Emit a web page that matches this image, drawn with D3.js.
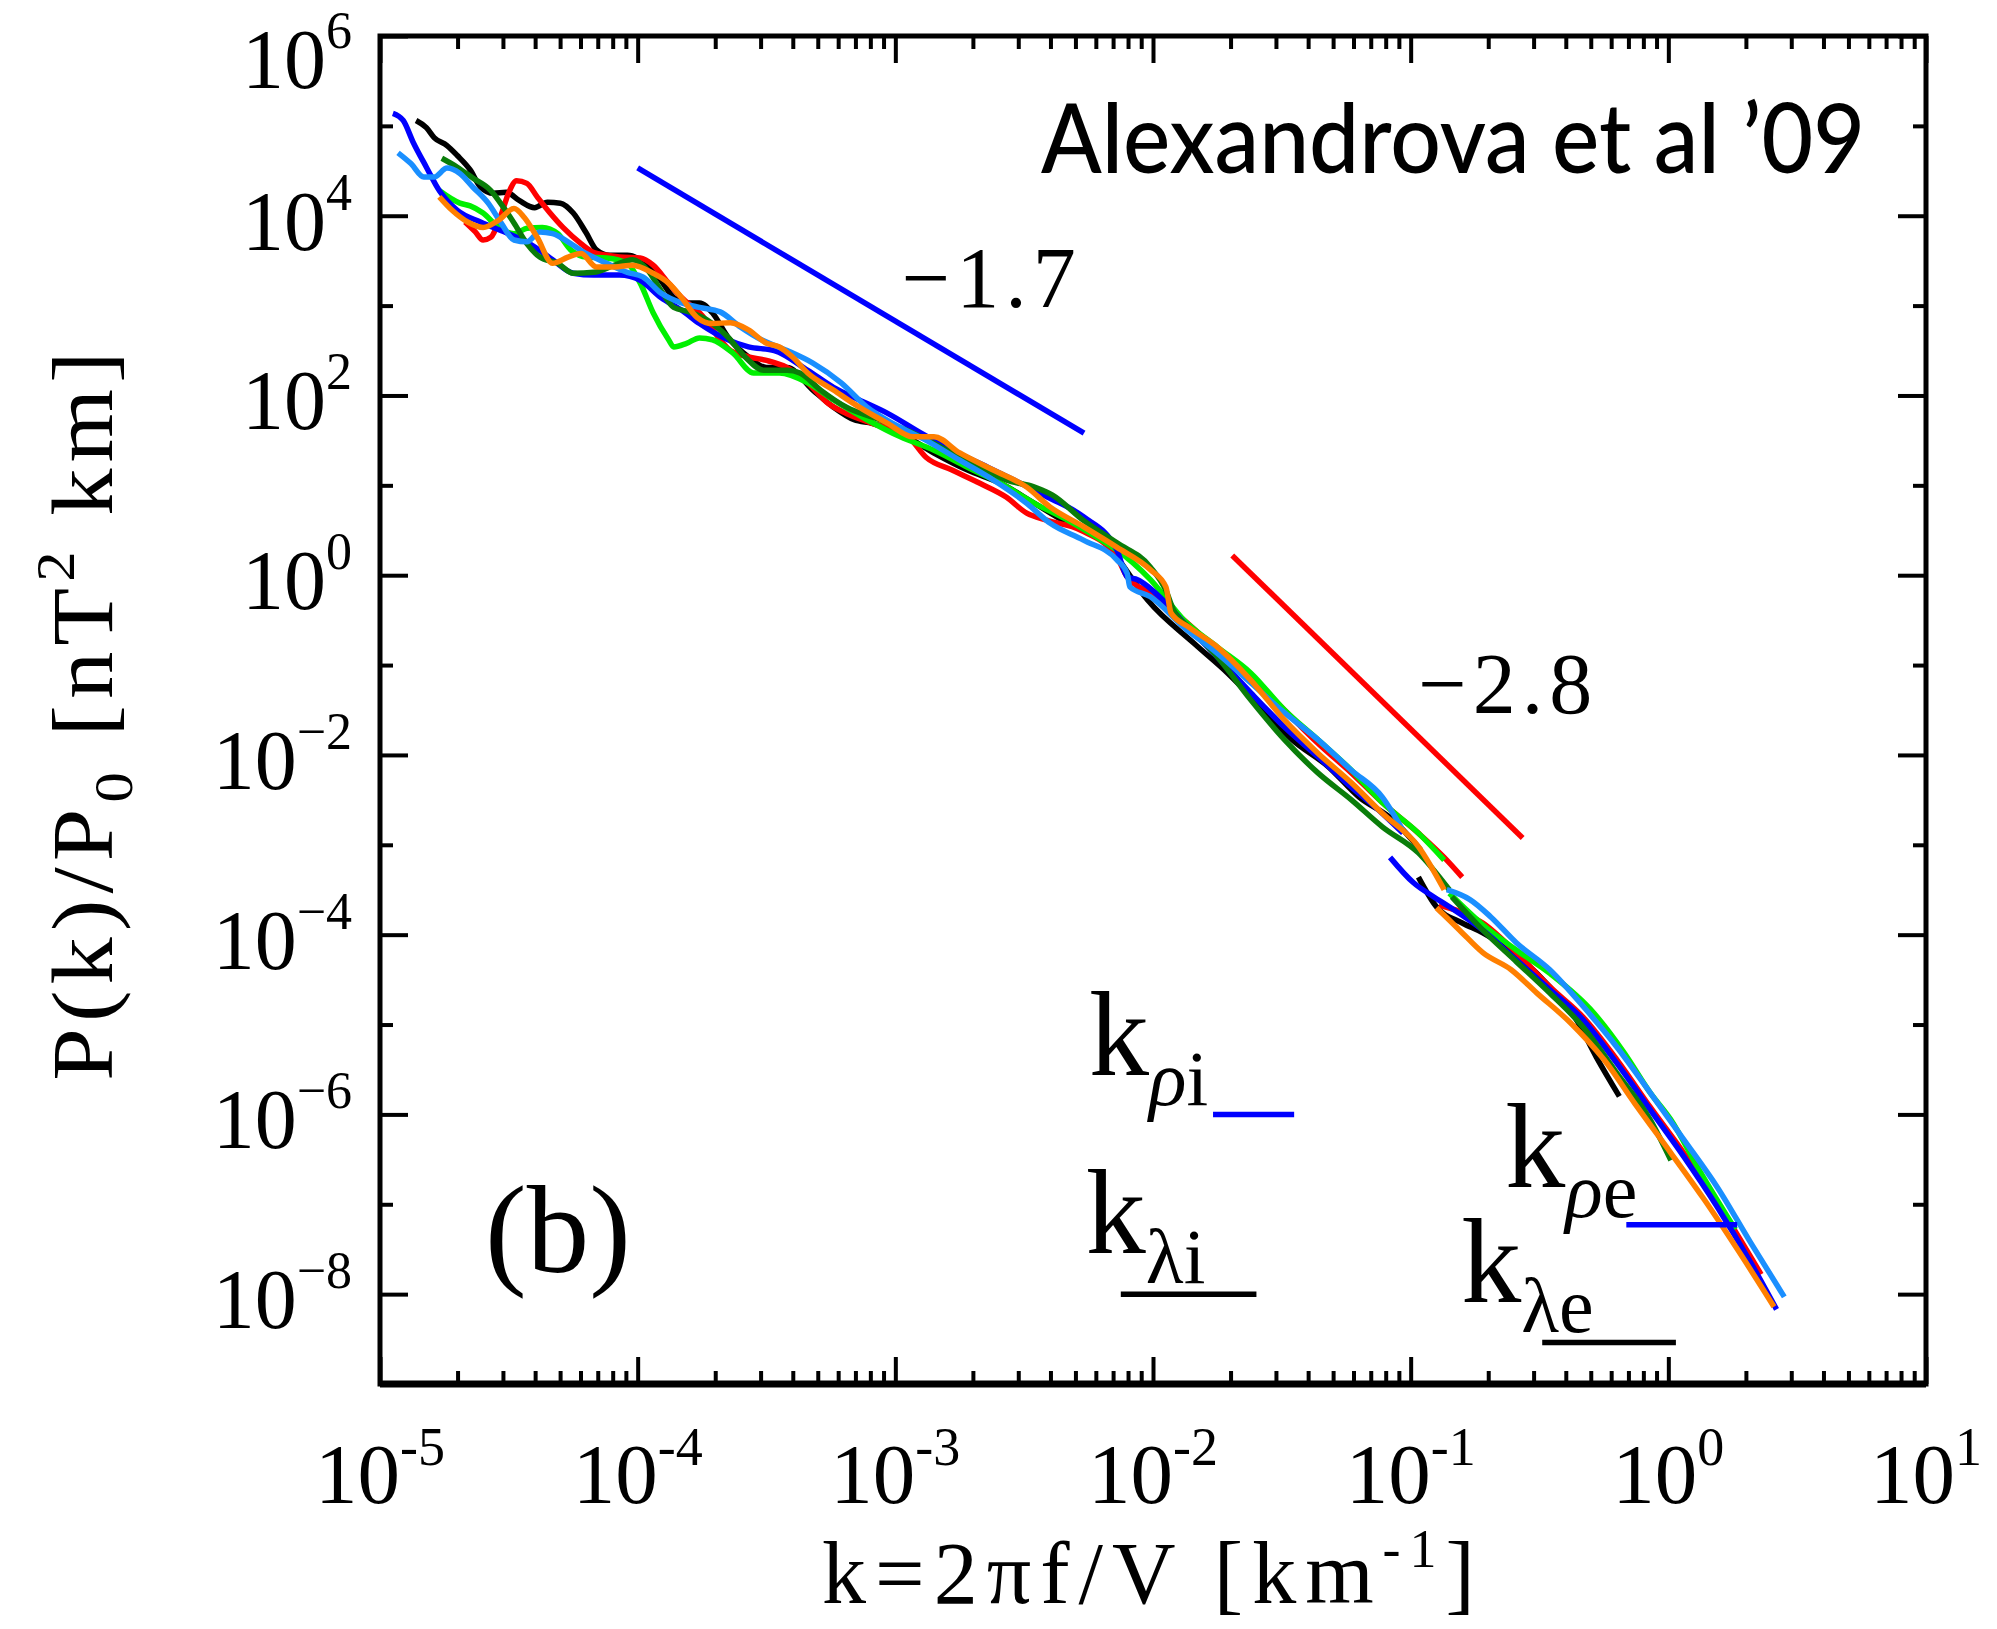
<!DOCTYPE html>
<html>
<head>
<meta charset="utf-8">
<script src="https://cdn.jsdelivr.net/npm/d3@7"></script>
<style>
  body { margin: 0; background: #fff; }
  svg { display: block; }
</style>
</head>
<body>
<div id="chart"></div>
<script>
// Spectra, as [log10 k, log10 P]
// "Low" = low-k instrument, "High" = high-k instrument
const blackLow = [[-4.86,5.06],[-4.82,4.98],[-4.79,4.87],[-4.74,4.78],[-4.70,4.67],[-4.65,4.51],[-4.61,4.32],[-4.56,4.25],[-4.51,4.26],[-4.46,4.17],[-4.40,4.09],[-4.35,4.15],[-4.30,4.14],[-4.25,4.03],[-4.20,3.81],[-4.16,3.62],[-4.11,3.56],[-4.04,3.56],[-3.99,3.51],[-3.92,3.32],[-3.86,3.09],[-3.81,3.03],[-3.76,3.03],[-3.71,2.92],[-3.65,2.65],[-3.57,2.43],[-3.50,2.31],[-3.42,2.31],[-3.32,2.06],[-3.24,1.87],[-3.16,1.73],[-3.09,1.69],[-2.98,1.58],[-2.85,1.36],[-2.72,1.17],[-2.59,1.02],[-2.46,0.80],[-2.33,0.58],[-2.20,0.42],[-2.14,0.20],[-2.02,-0.28],[-1.84,-0.76],[-1.71,-1.09],[-1.58,-1.47],[-1.46,-1.83],[-1.32,-2.13],[-1.20,-2.47],[-1.07,-2.72],[-0.96,-3.06]];
const blackHigh = [[-0.97,-3.36],[-0.90,-3.69],[-0.80,-3.87],[-0.72,-3.98],[-0.59,-4.23],[-0.46,-4.58],[-0.36,-4.93],[-0.28,-5.36],[-0.19,-5.80]];

const blueLow = [[-4.95,5.14],[-4.91,5.06],[-4.87,4.81],[-4.82,4.54],[-4.77,4.28],[-4.70,4.06],[-4.61,3.93],[-4.51,3.81],[-4.42,3.69],[-4.33,3.51],[-4.25,3.36],[-4.17,3.34],[-4.07,3.34],[-3.99,3.28],[-3.91,3.09],[-3.83,2.95],[-3.76,2.80],[-3.65,2.62],[-3.57,2.54],[-3.47,2.50],[-3.34,2.28],[-3.24,2.09],[-3.14,1.95],[-3.03,1.80],[-2.90,1.58],[-2.78,1.39],[-2.64,1.20],[-2.54,1.06],[-2.41,0.87],[-2.27,0.65],[-2.14,0.28],[-2.10,-0.02],[-2.06,-0.05],[-1.96,-0.28],[-1.88,-0.53],[-1.75,-0.91],[-1.62,-1.31],[-1.49,-1.69],[-1.36,-2.02],[-1.23,-2.36],[-1.11,-2.65],[-1.03,-2.87]];
const blueHigh = [[-1.08,-3.14],[-0.99,-3.42],[-0.91,-3.58],[-0.85,-3.69],[-0.72,-3.95],[-0.59,-4.28],[-0.46,-4.61],[-0.33,-4.95],[-0.20,-5.43],[-0.07,-5.95],[0.06,-6.47],[0.19,-7.03],[0.32,-7.65],[0.42,-8.17]];

const redLow = [[-4.67,3.93],[-4.63,3.82],[-4.60,3.73],[-4.57,3.76],[-4.53,4.01],[-4.50,4.26],[-4.47,4.39],[-4.43,4.36],[-4.39,4.21],[-4.34,4.03],[-4.29,3.87],[-4.22,3.69],[-4.17,3.59],[-4.12,3.56],[-4.07,3.54],[-3.99,3.53],[-3.94,3.45],[-3.88,3.25],[-3.83,3.09],[-3.76,2.92],[-3.64,2.50],[-3.57,2.43],[-3.50,2.39],[-3.42,2.31],[-3.34,2.14],[-3.26,1.91],[-3.19,1.80],[-3.09,1.69],[-2.95,1.54],[-2.88,1.31],[-2.78,1.17],[-2.67,1.02],[-2.57,0.87],[-2.49,0.69],[-2.41,0.61],[-2.28,0.50],[-2.14,0.20],[-2.10,-0.02],[-2.01,-0.20],[-1.88,-0.50],[-1.75,-0.83],[-1.62,-1.13],[-1.49,-1.50],[-1.36,-1.87],[-1.23,-2.20],[-1.11,-2.53],[-0.97,-2.87],[-0.87,-3.14],[-0.80,-3.36]];
const redHigh = [[-0.89,-3.67],[-0.72,-3.87],[-0.59,-4.20],[-0.46,-4.58],[-0.33,-4.92],[-0.20,-5.39],[-0.07,-5.92],[0.06,-6.43],[0.19,-6.98],[0.36,-7.78]];

const limeLow = [[-4.77,4.28],[-4.69,4.14],[-4.65,4.11],[-4.60,4.03],[-4.54,3.87],[-4.48,3.80],[-4.43,3.86],[-4.37,3.87],[-4.31,3.80],[-4.26,3.62],[-4.20,3.54],[-4.12,3.53],[-4.04,3.47],[-3.99,3.25],[-3.94,2.92],[-3.88,2.62],[-3.86,2.54],[-3.81,2.58],[-3.76,2.64],[-3.71,2.62],[-3.63,2.47],[-3.55,2.25],[-3.45,2.25],[-3.34,2.14],[-3.24,1.95],[-3.11,1.73],[-2.98,1.54],[-2.85,1.39],[-2.72,1.20],[-2.59,1.02],[-2.46,0.80],[-2.33,0.61],[-2.20,0.39],[-2.14,0.28],[-2.01,-0.05],[-1.88,-0.50],[-1.75,-0.80],[-1.62,-1.09],[-1.49,-1.50],[-1.36,-1.83],[-1.23,-2.17],[-1.11,-2.53],[-0.97,-2.87],[-0.87,-3.17]];
const limeHigh = [[-0.85,-3.54],[-0.72,-3.89],[-0.59,-4.17],[-0.46,-4.43],[-0.29,-4.87],[-0.17,-5.32],[-0.07,-5.76],[0.01,-6.06],[0.12,-6.62],[0.26,-7.28]];

const dgreenLow = [[-4.76,4.64],[-4.70,4.54],[-4.64,4.42],[-4.57,4.28],[-4.52,4.09],[-4.48,3.92],[-4.43,3.69],[-4.38,3.54],[-4.31,3.47],[-4.25,3.36],[-4.17,3.37],[-4.09,3.45],[-4.02,3.51],[-3.96,3.39],[-3.91,3.17],[-3.86,2.98],[-3.80,2.93],[-3.73,2.84],[-3.65,2.65],[-3.58,2.42],[-3.51,2.28],[-3.42,2.28],[-3.37,2.25],[-3.29,2.06],[-3.19,1.87],[-3.06,1.73],[-2.93,1.58],[-2.80,1.39],[-2.67,1.20],[-2.57,1.06],[-2.46,0.98],[-2.39,0.89],[-2.27,0.61],[-2.14,0.36],[-2.01,0.09],[-1.95,-0.17],[-1.92,-0.39],[-1.86,-0.58],[-1.75,-0.91],[-1.62,-1.39],[-1.49,-1.83],[-1.36,-2.20],[-1.23,-2.50],[-1.11,-2.80],[-0.97,-3.09],[-0.85,-3.50]];
const dgreenHigh = [[-0.84,-3.58],[-0.72,-3.95],[-0.59,-4.30],[-0.46,-4.65],[-0.33,-5.03],[-0.20,-5.54],[-0.07,-6.06],[0.01,-6.51]];

const skyLow = [[-4.93,4.70],[-4.88,4.58],[-4.83,4.43],[-4.79,4.43],[-4.74,4.53],[-4.69,4.47],[-4.64,4.32],[-4.58,4.14],[-4.53,3.92],[-4.48,3.73],[-4.43,3.71],[-4.38,3.82],[-4.33,3.80],[-4.26,3.69],[-4.20,3.58],[-4.12,3.47],[-4.04,3.37],[-3.98,3.32],[-3.91,3.14],[-3.83,3.03],[-3.76,2.98],[-3.68,2.93],[-3.60,2.76],[-3.52,2.62],[-3.42,2.50],[-3.32,2.36],[-3.21,2.14],[-3.11,1.87],[-3.01,1.69],[-2.88,1.50],[-2.75,1.28],[-2.62,1.06],[-2.49,0.80],[-2.40,0.58],[-2.27,0.39],[-2.14,0.17],[-2.10,0.02],[-2.09,-0.13],[-2.01,-0.24],[-1.88,-0.58],[-1.75,-0.87],[-1.62,-1.20],[-1.49,-1.53],[-1.36,-1.83],[-1.23,-2.17],[-1.11,-2.47],[-1.03,-2.84]];
const skyHigh = [[-0.86,-3.50],[-0.77,-3.61],[-0.69,-3.80],[-0.59,-4.09],[-0.46,-4.39],[-0.33,-4.80],[-0.20,-5.25],[-0.07,-5.76],[0.06,-6.28],[0.19,-6.81],[0.32,-7.43],[0.45,-8.03]];

const orangeLow = [[-4.77,4.21],[-4.72,4.06],[-4.66,3.93],[-4.60,3.87],[-4.54,3.95],[-4.48,4.08],[-4.44,3.98],[-4.39,3.76],[-4.33,3.47],[-4.27,3.54],[-4.22,3.58],[-4.16,3.43],[-4.09,3.43],[-4.02,3.45],[-3.94,3.36],[-3.88,3.25],[-3.83,3.09],[-3.77,2.87],[-3.71,2.80],[-3.64,2.81],[-3.57,2.73],[-3.50,2.58],[-3.45,2.54],[-3.40,2.43],[-3.34,2.25],[-3.24,2.06],[-3.14,1.87],[-3.03,1.69],[-2.93,1.54],[-2.85,1.54],[-2.75,1.36],[-2.62,1.17],[-2.49,0.98],[-2.40,0.76],[-2.27,0.54],[-2.14,0.31],[-2.01,0.06],[-1.95,-0.13],[-1.93,-0.42],[-1.86,-0.58],[-1.75,-0.80],[-1.62,-1.17],[-1.49,-1.61],[-1.36,-1.98],[-1.23,-2.31],[-1.11,-2.65],[-0.97,-3.02],[-0.87,-3.50]];
const orangeHigh = [[-0.90,-3.70],[-0.81,-3.95],[-0.72,-4.20],[-0.61,-4.39],[-0.51,-4.65],[-0.38,-4.98],[-0.25,-5.39],[-0.12,-5.92],[0.01,-6.43],[0.14,-6.95],[0.27,-7.51],[0.41,-8.14]];

// tick label exponents
const xTickExp = [-5, -4, -3, -2, -1, 0, 1];
const yTickExp = [6, 4, 2, 0, -2, -4, -6, -8];

// power-law reference lines (k, P at both ends)
const slopeK = [[1e-4, 5.4e-3], [0.0203, 0.272]];
const slopeP = [[3.4e4, 38], [1.66, 1.19e-3]];
const slopeText = ["\u22121.7", "\u22122.8"];

// characteristic scales: k range of the bar and level P
const scaleNames = [["\u03c1", "i"], ["\u03bb", "i"], ["\u03c1", "e"], ["\u03bb", "e"]];
const scaleK = [[0.0171, 0.0353], [0.0075, 0.0252], [0.687, 1.85], [0.324, 1.07]];
const scaleP = [1e-6, 1e-8, 5.9e-8, 2.9e-9];

const W = 1997, H = 1629;
const margin = { top: 36, right: 71, bottom: 245, left: 380 },
  width = W - margin.left - margin.right,
  height = H - margin.top - margin.bottom;

const serif = "'Liberation Serif', 'Times New Roman', serif";

const x = d3.scaleLog().domain([1e-5, 10]).range([0, width]);
const y = d3.scaleLog().domain([1e-9, 1e6]).range([height, 0]);

const root = d3.select("#chart")
  .append("svg")
  .attr("width", W)
  .attr("height", H)
  .style("background", "#fff");

const svg = root.append("g")
  .attr("transform", `translate(${margin.left},${margin.top})`);

// ticks: majors every decade on x, every 2 decades on y
const xMajor = xTickExp.map(e => Math.pow(10, e));
const xMinor = [];
for (let e = -5; e < 1; e++) {
  for (let m = 2; m <= 9; m++) xMinor.push(m * Math.pow(10, e));
}
const yMajor = d3.range(-8, 7, 2).map(e => Math.pow(10, e));
const yMinor = d3.range(-9, 6, 2).map(e => Math.pow(10, e));

function drawAxis(axis, tx, ty) {
  const g = svg.append("g")
    .attr("transform", `translate(${tx},${ty})`)
    .call(axis.tickFormat(""));
  g.select(".domain").remove();
  g.selectAll("line").attr("stroke", "#000").attr("stroke-width", 4);
}

drawAxis(d3.axisBottom(x).tickValues(xMajor).tickSize(-27), 0, height);
drawAxis(d3.axisBottom(x).tickValues(xMinor).tickSize(-13), 0, height);
drawAxis(d3.axisTop(x).tickValues(xMajor).tickSize(-27), 0, 0);
drawAxis(d3.axisTop(x).tickValues(xMinor).tickSize(-13), 0, 0);
drawAxis(d3.axisLeft(y).tickValues(yMajor).tickSize(-28), 0, 0);
drawAxis(d3.axisLeft(y).tickValues(yMinor).tickSize(-13), 0, 0);
drawAxis(d3.axisRight(y).tickValues(yMajor).tickSize(-28), width, 0);
drawAxis(d3.axisRight(y).tickValues(yMinor).tickSize(-13), width, 0);

// frame
svg.append("rect")
  .attr("width", width)
  .attr("height", height)
  .attr("fill", "none")
  .attr("stroke", "#000")
  .attr("stroke-width", 5);
svg.append("line")
  .attr("x1", 0).attr("x2", width)
  .attr("y1", height).attr("y2", height)
  .attr("stroke", "#000")
  .attr("stroke-width", 7);

// x tick labels  10^n
const xl = svg.selectAll(".xlab")
  .data(xTickExp)
  .join("text")
  .attr("class", "xlab")
  .attr("x", d => x(Math.pow(10, d)))
  .attr("y", height + 119)
  .attr("text-anchor", "middle")
  .style("font-family", serif)
  .style("font-size", "85px");
xl.append("tspan").text("10");
xl.append("tspan")
  .attr("dy", -38)
  .style("font-size", "54px")
  .text(d => String(d));

// y tick labels
const yl = svg.selectAll(".ylab")
  .data(yTickExp)
  .join("text")
  .attr("class", "ylab")
  .attr("x", -28)
  .attr("y", d => y(Math.pow(10, d)) + (d === 6 ? 52 : 34))
  .attr("text-anchor", "end")
  .style("font-family", serif)
  .style("font-size", "84px");
yl.append("tspan").text("10");
yl.append("tspan")
  .attr("dy", -40)
  .style("font-size", "52px")
  .text(d => String(d).replace("-", "\u2212"));

// axis titles
const ytitle = svg.append("g")
  .attr("transform", `translate(-268,${height / 2 + 3}) rotate(-90) scale(1.1,1)`)
  .append("text")
  .attr("text-anchor", "middle")
  .style("font-family", serif)
  .style("font-size", "86px")
  .style("letter-spacing", "5.5px");
ytitle.append("tspan").text("P(k)/P");
ytitle.append("tspan").attr("dy", 20).style("font-size", "55px").text("0");
ytitle.append("tspan").attr("dy", -20).text(" [nT");
ytitle.append("tspan").attr("dy", -38).style("font-size", "55px").text("2");
ytitle.append("tspan").attr("dy", 38).text(" km]");

const xtitle = svg.append("text")
  .attr("x", width / 2)
  .attr("y", height + 219)
  .attr("text-anchor", "middle")
  .style("font-family", serif)
  .style("font-size", "88px")
  .style("letter-spacing", "9px");
xtitle.append("tspan").text("k=2\u03c0f/V [km");
xtitle.append("tspan").attr("dy", -36).style("font-size", "54px").text("-1");
xtitle.append("tspan").attr("dy", 36).text("]");

// spectra
const line = d3.line()
  .x(d => x(Math.pow(10, d[0])))
  .y(d => y(Math.pow(10, d[1])))
  .curve(d3.curveMonotoneX);

const spectra = [
  [blackLow, "#000000"], [blackHigh, "#000000"],
  [redLow, "#ff0000"], [redHigh, "#ff0000"],
  [limeLow, "#00f000"], [limeHigh, "#00f000"],
  [blueLow, "#0000ff"], [blueHigh, "#0000ff"],
  [dgreenLow, "#0a7d0a"], [dgreenHigh, "#0a7d0a"],
  [skyLow, "#1a8fff"], [skyHigh, "#1a8fff"],
  [orangeLow, "#ff7f00"], [orangeHigh, "#ff7f00"]
];

spectra.forEach(s => {
  svg.append("path")
    .datum(s[0])
    .attr("fill", "none")
    .attr("stroke", s[1])
    .attr("stroke-width", 5.5)
    .attr("stroke-linejoin", "round")
    .attr("d", line);
});

// reference slopes
const slopeColors = ["#0000ff", "#ff0000"];
slopeK.forEach((k, i) => {
  svg.append("line")
    .attr("x1", x(k[0])).attr("y1", y(slopeP[i][0]))
    .attr("x2", x(k[1])).attr("y2", y(slopeP[i][1]))
    .attr("stroke", slopeColors[i])
    .attr("stroke-width", 5.5);
});
const slopeLabelAt = [[1.06e-3, 970], [0.107, 0.029]];
slopeText.forEach((t, i) => {
  svg.append("text")
    .attr("x", x(slopeLabelAt[i][0]))
    .attr("y", y(slopeLabelAt[i][1]))
    .style("font-family", serif)
    .style("font-size", "86px")
    .style("letter-spacing", "6px")
    .text(t);
});

// k_rho / k_lambda markers
const scaleColors = ["#0000ff", "#000000", "#0000ff", "#000000"];
const scaleLabelOffset = [[-124, -39], [-35, -41], [-121, -38], [-81, -40]];
scaleK.forEach((k, i) => {
  svg.append("line")
    .attr("x1", x(k[0])).attr("x2", x(k[1]))
    .attr("y1", y(scaleP[i])).attr("y2", y(scaleP[i]))
    .attr("stroke", scaleColors[i])
    .attr("stroke-width", 5.5);

  const t = svg.append("text")
    .attr("x", x(k[0]) + scaleLabelOffset[i][0])
    .attr("y", y(scaleP[i]) + scaleLabelOffset[i][1])
    .style("font-family", serif)
    .style("font-size", "120px");
  t.append("tspan").text("k");
  t.append("tspan")
    .attr("dy", 30)
    .style("font-size", "78px")
    .style("font-style", scaleNames[i][0] === "\u03c1" ? "italic" : "normal")
    .text(scaleNames[i][0]);
  t.append("tspan")
    .style("font-size", "78px")
    .text(scaleNames[i][1]);
});

// panel tag and citation
svg.append("text")
  .attr("x", 105)
  .attr("y", 1236)
  .style("font-family", serif)
  .style("font-size", "125px")
  .text("(b)");

svg.append("text")
  .attr("x", 661)
  .attr("y", 137)
  .attr("textLength", 824)
  .attr("lengthAdjust", "spacingAndGlyphs")
  .style("font-family", "Lato, 'Open Sans', sans-serif")
  .style("font-size", "96px")
  .style("font-weight", 500)
  .text("Alexandrova et al \u201909");
</script>
</body>
</html>
